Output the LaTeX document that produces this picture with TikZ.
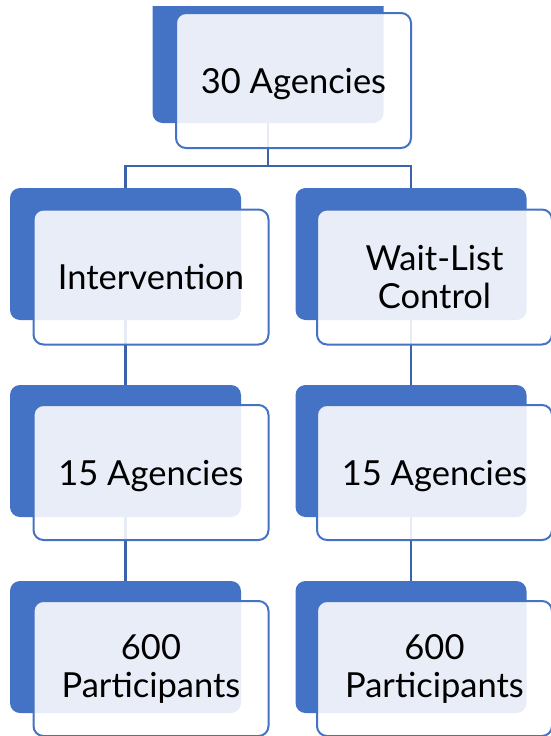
\documentclass[tikz,border=0pt]{standalone}
\usepackage{fontspec}
\setmainfont{Lato}
\usepackage{tikz}
\usetikzlibrary{positioning}

\definecolor{officeblue}{HTML}{4472C4}
\definecolor{linkblue}{HTML}{3B63AC}

\tikzset{
  back/.style={rectangle,rounded corners=10pt,fill=officeblue,draw=none,
    minimum width=231pt,minimum height=132pt,inner sep=0pt},
  front/.style={rectangle,rounded corners=10pt,draw=officeblue,line width=2pt,
    fill=white,fill opacity=0.88,text opacity=1,minimum width=235pt,
    minimum height=135pt,inner sep=0pt,align=center,
    font=\fontsize{34.5}{38}\selectfont},
  oneline/.style={text depth=0pt},
  link/.style={draw=linkblue,line width=2.2pt}
}

\begin{document}
\begin{tikzpicture}[x=1pt,y=-1pt]
  \useasboundingbox (0,0) rectangle (550,736);
  \begin{scope}
    \clip (0,6) rectangle (550,736);
    \node[back] (b_top) at (268,57) {};
  \end{scope}
  \node[back] (b_int)  at (125.5,254) {};
  \node[back] (b_wl)   at (411,254)   {};
  \node[back] (b_int2) at (125.5,451) {};
  \node[back] (b_wl2)  at (411,451)   {};
  \node[back] (b_int3) at (125.5,647) {};
  \node[back] (b_wl3)  at (411,647)   {};
  \coordinate (bus) at (268,166);
  \draw[link] (b_top.south) -- (bus) -| (b_int.north);
  \draw[link] (bus) -| (b_wl.north);
  \draw[link] (b_int.south)  -- (b_int2.north);
  \draw[link] (b_int2.south) -- (b_int3.north);
  \draw[link] (b_wl.south)   -- (b_wl2.north);
  \draw[link] (b_wl2.south)  -- (b_wl3.north);
  \node[front,oneline] (f_top)  at ([shift={(25.5,23.5)}]b_top)  {30 Agencies};
  \node[front,oneline] (f_int)  at ([shift={(25.5,23)}]b_int)    {Intervention};
  \node[front]         (f_wl)   at ([shift={(23.5,23)}]b_wl)     {Wait-List\\Control};
  \node[front,oneline] (f_int2) at ([shift={(25.5,21.5)}]b_int2) {15 Agencies};
  \node[front,oneline] (f_wl2)  at ([shift={(23.5,21.5)}]b_wl2)  {15 Agencies};
  \node[front]         (f_int3) at ([shift={(25.5,21.5)}]b_int3) {600\\Participants};
  \node[front]         (f_wl3)  at ([shift={(23.5,21.5)}]b_wl3)  {600\\Participants};
\end{tikzpicture}
\end{document}
